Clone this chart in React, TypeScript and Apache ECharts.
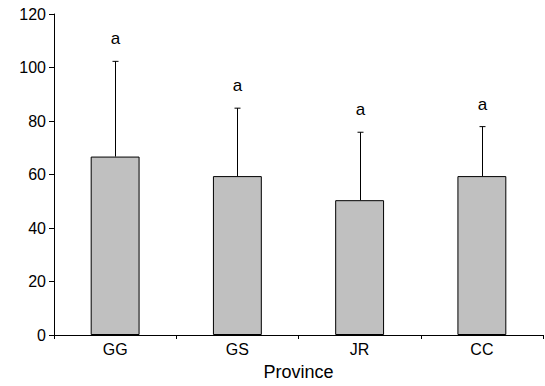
import React, { useEffect, useRef } from "react";
import * as echarts from "echarts";

const categories = ["GG", "GS", "JR", "CC"];
const means = [66.7, 59.4, 50.4, 59.4];
const upperErrors = [102.3, 84.8, 75.8, 77.9];
const letters = ["a", "a", "a", "a"];
const yTicks = { min: 0, max: 120, interval: 20 };

const FONT = "Liberation Sans, Arial, sans-serif";

export default function App() {
  const ref = useRef<HTMLDivElement>(null);
  useEffect(() => {
    if (!ref.current) return;
    const chart = echarts.init(ref.current, null, { renderer: "svg" });
    const errData = categories.map((c, i) => [i, means[i], upperErrors[i]]);
    chart.setOption({
      animation: false,
      grid: { left: 54, top: 14, right: 2, bottom: 48, containLabel: false },
      xAxis: {
        type: "category",
        data: categories,
        name: "Province",
        nameLocation: "middle",
        nameGap: 28,
        nameTextStyle: { fontFamily: FONT, fontSize: 18, color: "#000" },
        axisLine: { lineStyle: { color: "#000", width: 1 } },
        axisTick: { show: true, length: 4, alignWithLabel: false, lineStyle: { color: "#000" } },
        axisLabel: { fontFamily: FONT, fontSize: 16, color: "#000", margin: 6 },
      },
      yAxis: {
        type: "value",
        min: yTicks.min,
        max: yTicks.max,
        interval: yTicks.interval,
        axisLine: { show: true, lineStyle: { color: "#000", width: 1 } },
        axisTick: { show: true, length: 5, lineStyle: { color: "#000" } },
        axisLabel: { fontFamily: FONT, fontSize: 16, color: "#000", margin: 8 },
        splitLine: { show: false },
      },
      series: [
        {
          type: "bar",
          data: means,
          barWidth: "40%",
          itemStyle: { color: "#c0c0c0", borderColor: "#000", borderWidth: 1 },
          z: 2,
        },
        {
          type: "custom",
          data: errData,
          z: 3,
          renderItem: (params: any, api: any) => {
            const i = api.value(0);
            const lo = api.coord([i, api.value(1)]);
            const hi = api.coord([i, api.value(2)]);
            const x = Math.round(lo[0]) + 0.5;
            const cap = 3;
            return {
              type: "group",
              children: [
                {
                  type: "line",
                  shape: { x1: x, y1: lo[1], x2: x, y2: hi[1] },
                  style: { stroke: "#000", lineWidth: 1 },
                },
                {
                  type: "line",
                  shape: { x1: x - cap, y1: hi[1], x2: x + cap, y2: hi[1] },
                  style: { stroke: "#000", lineWidth: 1 },
                },
                {
                  type: "text",
                  x: x,
                  y: hi[1] - 14,
                  style: {
                    text: letters[params.dataIndex],
                    fontFamily: FONT,
                    fontSize: 17,
                    fill: "#000",
                    align: "center",
                    verticalAlign: "bottom",
                  },
                },
              ],
            };
          },
        },
      ],
    });
    return () => chart.dispose();
  }, []);
  return (
    <div
      ref={ref}
      style={{ position: "absolute", left: 0, top: 0, width: 545, height: 386 }}
    />
  );
}
